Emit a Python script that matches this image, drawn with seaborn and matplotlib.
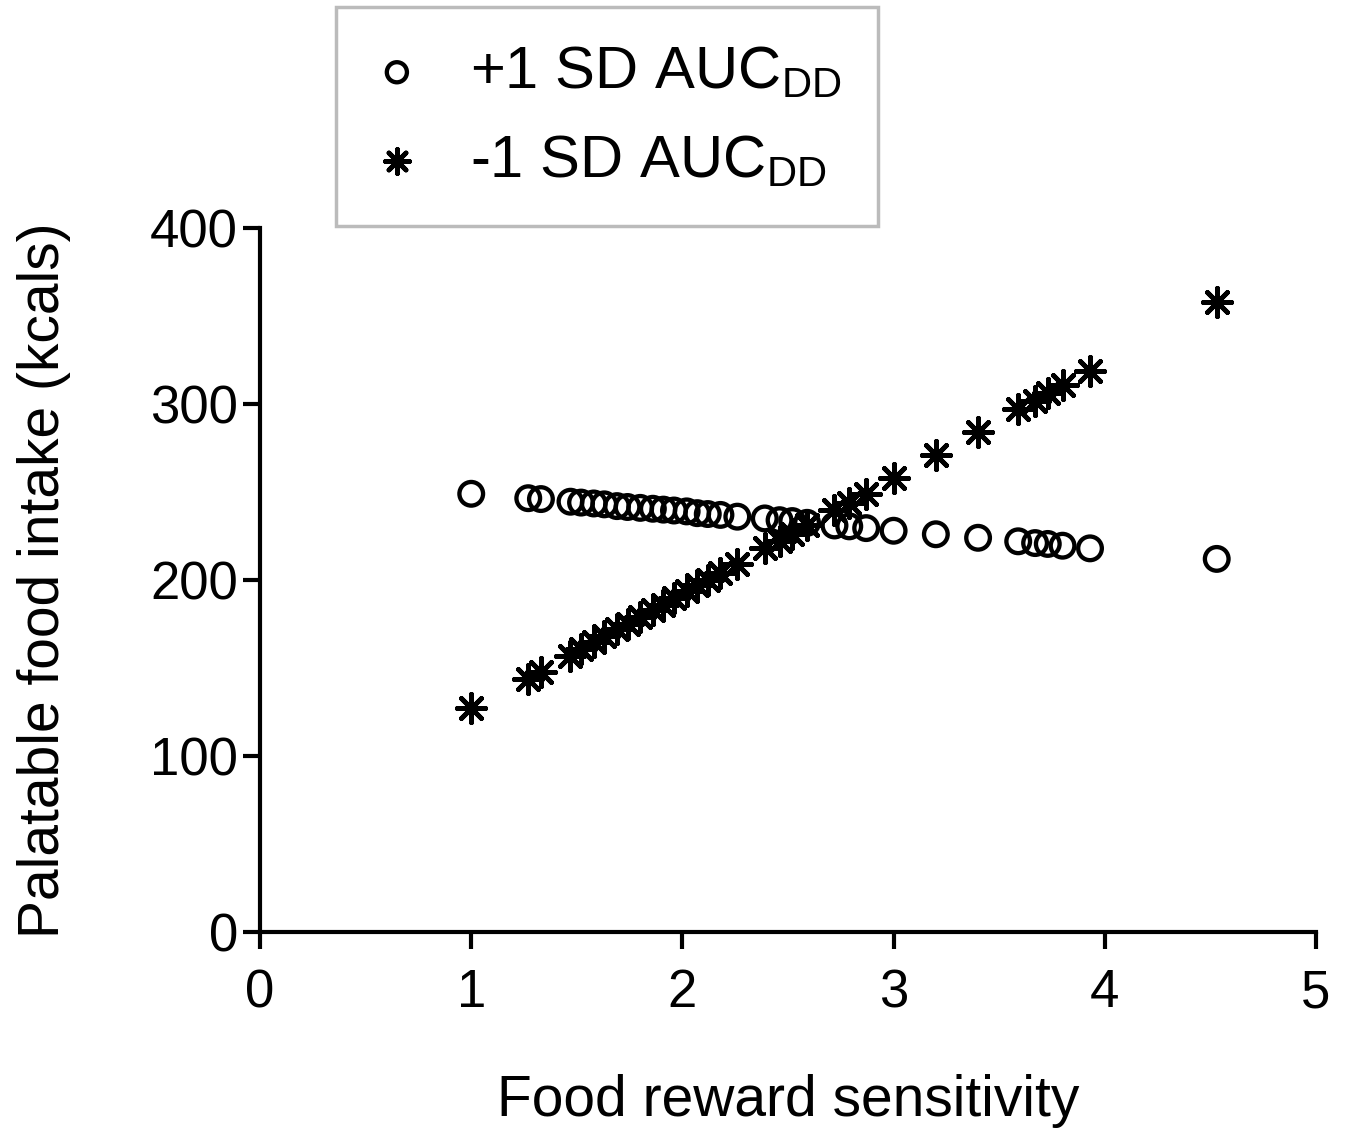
import matplotlib
matplotlib.use('Agg')
import matplotlib.pyplot as plt
import seaborn as sb
import pandas as pd
import numpy as np

#================================================
# DATA

reward_sens = [1.00, 1.27, 1.33, 1.47, 1.52, 1.58, 1.63, 1.69, 1.74, 1.80,
               1.86, 1.91, 1.96, 2.02, 2.07, 2.12, 2.18, 2.26, 2.39, 2.46,
               2.52, 2.59, 2.72, 2.79, 2.87, 3.00, 3.20, 3.40, 3.59, 3.67,
               3.73, 3.80, 3.93, 4.53]

intake_plus1sd = [249, 246.5, 246, 244.5, 244, 243.5, 243, 242, 241.5, 241,
                  240.5, 240, 239.5, 239, 238, 237.5, 237, 236, 235, 234,
                  233.5, 232.5, 231, 230.5, 229.5, 228, 226, 224, 222, 221,
                  220.5, 219.5, 218, 212]

intake_minus1sd = [127, 144, 148, 157, 161, 165, 168, 172, 175, 179,
                   183, 186, 190, 194, 197, 200, 204, 209, 218, 222,
                   226, 231, 240, 244, 249, 258, 271, 284, 297, 302,
                   306, 311, 319, 358]

series_labels = [r'+1 SD AUC$_{\mathregular{DD}}$', r'-1 SD AUC$_{\mathregular{DD}}$']
x_ticks = [0, 1, 2, 3, 4, 5]
y_ticks = [0, 100, 200, 300, 400]

#================================================
# PLOTTING

sb.set_style('ticks')
plt.rcParams['font.family'] = ['Liberation Sans', 'DejaVu Sans']
plt.rcParams['mathtext.fontset'] = 'custom'
plt.rcParams['mathtext.rm'] = 'Liberation Sans'
plt.rcParams['text.color'] = 'black'
plt.rcParams['axes.labelcolor'] = 'black'
plt.rcParams['xtick.color'] = 'black'
plt.rcParams['ytick.color'] = 'black'

df = pd.DataFrame({'x': reward_sens, 'plus': intake_plus1sd, 'minus': intake_minus1sd})

fig = plt.figure(figsize=(13.46, 11.29), dpi=100)
ax = fig.add_axes([0.1932, 0.1745, 0.7845, 0.6235])

# 8-armed asterisk
star = (8, 2, 0)
sb.scatterplot(data=df, x='x', y='plus', marker='o', s=290, facecolors='none',
               edgecolor='black', linewidth=3.1, ax=ax, label=series_labels[0], zorder=3)
sb.scatterplot(data=df, x='x', y='minus', marker=star, s=420, color='black',
               edgecolor='black', linewidth=3.4, ax=ax, label=series_labels[1], zorder=3)
ax.collections[0].set_facecolor('none')

ax.set_xlim(0, 5)
ax.set_ylim(0, 400)
ax.set_xticks(x_ticks)
ax.set_yticks(y_ticks)
ax.tick_params(axis='both', labelsize=38, width=3, length=12, direction='out')
ax.tick_params(axis='x', pad=14)
ax.tick_params(axis='y', pad=4)
for side in ['top', 'right']:
    ax.spines[side].set_visible(False)
for side in ['left', 'bottom']:
    ax.spines[side].set_linewidth(3)
    ax.spines[side].set_color('black')

ax.set_xlabel('Food reward sensitivity', fontsize=41, labelpad=40)
ax.set_ylabel('Palatable food intake (kcals)', fontsize=41, labelpad=57)

# Legend box above the axes
handles, labels = ax.get_legend_handles_labels()
ax.legend_.remove()
leg = fig.legend(handles, labels, loc='upper left', bbox_to_anchor=(0.2496, 0.9938),
                 bbox_transform=fig.transFigure, fontsize=43, frameon=True, fancybox=False,
                 edgecolor='#aaaaaa', markerscale=0.85, handlelength=0.8, handletextpad=0.82,
                 borderpad=0.62, labelspacing=0.55, borderaxespad=0)
leg.get_frame().set_linewidth(2.5)

fig.savefig('out.png', dpi=100)
